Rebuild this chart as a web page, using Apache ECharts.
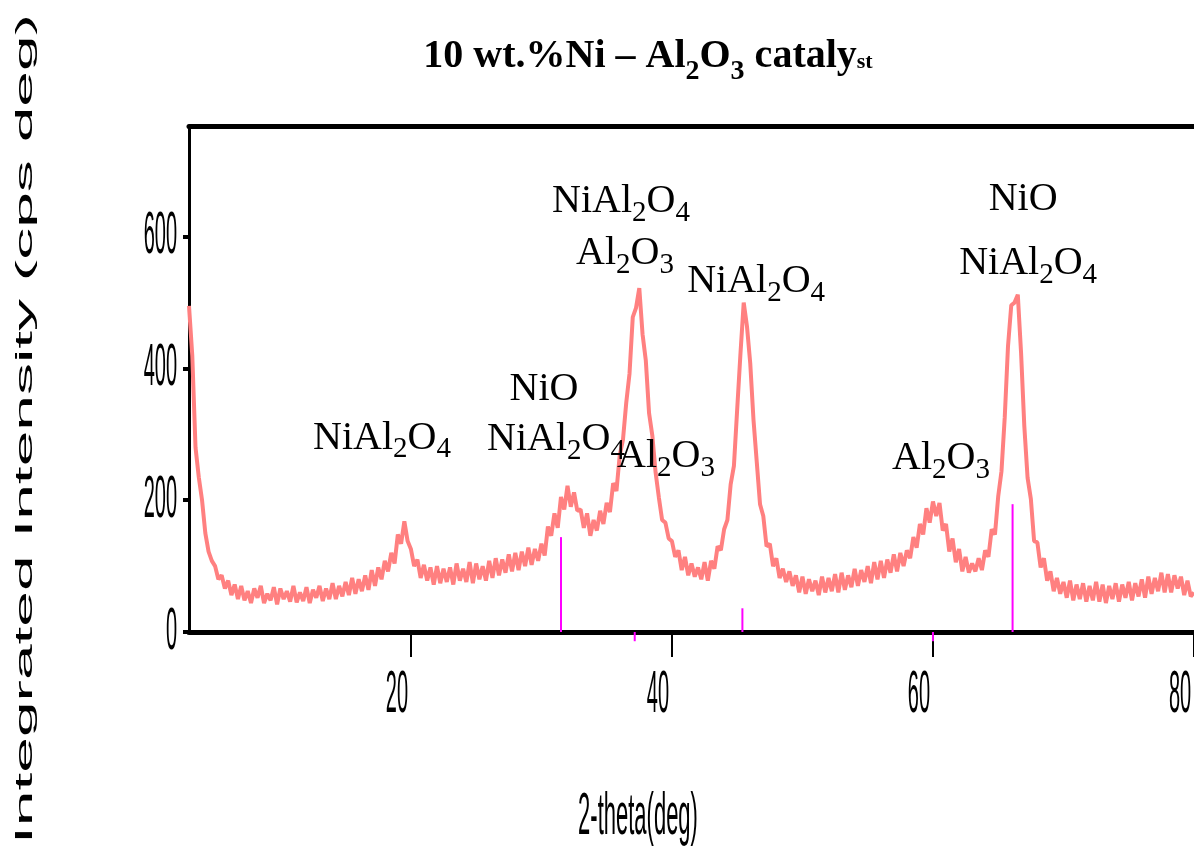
<!DOCTYPE html>
<html>
<head>
<meta charset="utf-8">
<script src="https://cdn.jsdelivr.net/npm/echarts@6/dist/echarts.min.js"></script>
<style>html,body{margin:0;padding:0;background:#fff}#c{width:1194px;height:849px}</style>
</head>
<body>
<div id="c"></div>
<script>
// scan grid (2-theta, deg)
const thetaStart = 3;
const thetaStep = 0.25;
// integrated intensity, one value per grid step (3.00 ... 80.00)
const intensity = [
  495, 420, 280, 235,   200, 150, 122, 108,   100, 80, 86, 66,   78, 56, 72, 50,   70, 48, 62, 44,
  66, 52, 70, 44,   58, 48, 68, 42,   66, 50, 62, 46,   70, 45, 60, 47,   68, 44, 64, 52,
  70, 47, 66, 50,   74, 50, 70, 54,   76, 56, 82, 58,   80, 62, 86, 64,   94, 70, 98, 80,
  108, 92, 120, 104,   148, 134, 168, 138,   126, 100, 110, 82,   102, 78, 98, 72,   100, 74, 96, 76,
  98, 72, 104, 78,   96, 76, 106, 74,   104, 80, 100, 78,   108, 82, 112, 86,   110, 90, 118, 92,
  120, 94, 122, 100,   128, 102, 126, 108,   134, 116, 160, 146,   180, 158, 205, 186,   222, 190, 212, 184,
  186, 158, 180, 146,   170, 154, 184, 164,   196, 182, 226, 214,   268, 292, 348, 392,   478, 492, 522, 452,
  412, 332, 298, 242,   204, 170, 166, 142,   138, 114, 124, 94,   114, 86, 104, 84,   98, 80, 106, 78,
  108, 96, 130, 124,   156, 170, 224, 252,   338, 422, 500, 464,   408, 322, 258, 194,   176, 130, 134, 100,
  112, 82, 96, 76,   92, 70, 86, 60,   84, 58, 80, 62,   78, 56, 84, 60,   82, 62, 88, 60,
  90, 64, 86, 68,   96, 70, 94, 76,   100, 74, 106, 80,   108, 82, 110, 90,   118, 92, 120, 100,
  124, 112, 144, 128,   164, 148, 188, 166,   198, 176, 196, 154,   164, 122, 142, 106,   126, 92, 114, 90,
  104, 92, 112, 94,   124, 114, 156, 148,   206, 244, 326, 434,   496, 500, 512, 424,   312, 234, 202, 138,
  136, 98, 112, 78,   92, 62, 82, 58,   76, 52, 78, 48,   72, 50, 74, 46,   70, 48, 76, 46,
  72, 44, 70, 50,   74, 46, 72, 52,   76, 48, 74, 54,   80, 52, 84, 58,   82, 62, 90, 60,
  88, 60, 86, 66,   84, 56, 78, 54,   60
];
// reference (stick) pattern lines
const refTheta  = [31.5, 37.15, 45.4, 60.0, 66.1];
const refTop    = [144, 0, 36, 0, 194];
const refBottom = [0, -14, 0, -14, 0];
// ticks
const xTickValues = [20, 40, 60, 80];
const xTickLabels = ['20', '40', '60', '80'];
const yTickValues = [0, 200, 400, 600];
const yTickLabels = ['0', '200', '400', '600'];
// texts
const chartTitle = '10 wt.%Ni \u2013 Al{s|2}O{s|3} cataly{t|st}';
const xAxisTitle = '2-theta(deg)';
const yAxisTitle = 'Integrated Intensity (cps deg)';
const annotationTexts = [
  'NiAl{s|2}O{s|4}',
  'NiO',
  'NiAl{s|2}O{s|4}',
  'Al{s|2}O{s|3}',
  'NiAl{s|2}O{s|4}',
  'Al{s|2}O{s|3}',
  'NiAl{s|2}O{s|4}',
  'Al{s|2}O{s|3}',
  'NiO',
  'NiAl{s|2}O{s|4}'
];
// anchor of each annotation (data coordinates)
const annotationAnchors = [
  [17.79, 294], [30.20, 368], [31.12, 292], [39.55, 266], [36.10, 653],
  [36.41, 574], [46.45, 532], [60.62, 263], [66.91, 656], [67.29, 559]
];

const serifFont = '"Liberation Serif", "Times New Roman", serif';
const sansFont = '"Liberation Sans", Arial, sans-serif';

const lineData = intensity.map((v, i) => [thetaStart + i * thetaStep, v]);
const refData = refTheta.map((t, i) => [t, refTop[i], refBottom[i]]);

const chart = echarts.init(document.getElementById('c'), null, {renderer: 'canvas'});

chart.setOption({
  animation: false,
  backgroundColor: '#fff',
  grid: {left: 189, right: 0, top: 126, bottom: 217, containLabel: false},
  xAxis: [{
    type: 'value', min: 3, max: 80, position: 'bottom',
    axisLine: {show: true, onZero: false, lineStyle: {color: '#000', width: 5}},
    axisTick: {show: true, customValues: xTickValues, length: 25, lineStyle: {color: '#000', width: 2}},
    axisLabel: {show: false},
    splitLine: {show: false}
  }, {
    type: 'value', min: 3, max: 80, position: 'top',
    axisLine: {show: true, onZero: false, lineStyle: {color: '#000', width: 5}},
    axisTick: {show: false}, axisLabel: {show: false}, splitLine: {show: false}
  }],
  yAxis: {
    type: 'value', min: 0, max: 768,
    axisLine: {show: true, onZero: false, lineStyle: {color: '#000', width: 3}},
    axisTick: {show: true, customValues: yTickValues, length: 6, lineStyle: {color: '#000', width: 4}},
    axisLabel: {show: false},
    splitLine: {show: false}
  },
  series: [{
    type: 'line',
    data: lineData,
    showSymbol: false,
    silent: true,
    lineStyle: {color: '#ff8080', width: 4, join: 'bevel'},
    markPoint: {
      silent: true,
      symbol: 'circle',
      symbolSize: 1,
      itemStyle: {color: 'rgba(0,0,0,0)'},
      label: {
        show: true,
        position: 'inside',
        color: '#000',
        fontFamily: serifFont,
        fontSize: 40,
        lineHeight: 56,
        formatter: (p) => annotationTexts[p.dataIndex],
        rich: {
          s: {fontFamily: serifFont, fontSize: 29, lineHeight: 30, color: '#000', padding: [23, 0, 0, 0]}
        }
      },
      data: annotationAnchors.map((c) => ({coord: c}))
    }
  }, {
    type: 'custom',
    clip: false,
    silent: true,
    data: refData,
    renderItem: function (params, api) {
      const p0 = api.coord([api.value(0), api.value(1)]);
      const p1 = api.coord([api.value(0), api.value(2)]);
      return {
        type: 'line',
        shape: {x1: p0[0], y1: p0[1], x2: p1[0], y2: p1[1]},
        style: {stroke: '#ff00ff', lineWidth: 2}
      };
    },
    z: 5
  }]
});

const graphics = [];
xTickValues.forEach((v, i) => {
  const p = chart.convertToPixel({gridIndex: 0}, [v, 0]);
  graphics.push({
    type: 'text', x: p[0] - 14, y: 695, scaleY: 3,
    style: {text: xTickLabels[i], font: '20px ' + sansFont, fill: '#000',
            align: 'center', verticalAlign: 'middle', textAlign: 'center', textVerticalAlign: 'middle'}
  });
});
yTickValues.forEach((v, i) => {
  const p = chart.convertToPixel({gridIndex: 0}, [3, v]);
  graphics.push({
    type: 'text', x: 177, y: p[1], scaleY: 3,
    style: {text: yTickLabels[i], font: '20px ' + sansFont, fill: '#000',
            align: 'right', verticalAlign: 'middle', textAlign: 'right', textVerticalAlign: 'middle'}
  });
});
graphics.push({
  type: 'text', x: 638, y: 818, scaleY: 2.7,
  style: {text: xAxisTitle, font: '22px ' + sansFont, fill: '#000',
          align: 'center', verticalAlign: 'middle', textAlign: 'center', textVerticalAlign: 'middle'}
});
graphics.push({
  type: 'text', x: 25, y: 429, rotation: Math.PI / 2, scaleX: 2.67,
  style: {text: yAxisTitle, font: '24px ' + sansFont, fill: '#000',
          align: 'center', verticalAlign: 'middle', textAlign: 'center', textVerticalAlign: 'middle'}
});
graphics.push({
  type: 'text', x: 648, y: 56.5,
  style: {
    text: chartTitle, fill: '#000',
    fontFamily: serifFont, fontSize: 40, fontWeight: 'bold', lineHeight: 60,
    align: 'center', verticalAlign: 'middle',
    rich: {
      s: {fontFamily: serifFont, fontSize: 28, fontWeight: 'bold', lineHeight: 28, fill: '#000', padding: [30, 0, 0, 0]},
      t: {fontFamily: serifFont, fontSize: 22, fontWeight: 'bold', lineHeight: 22, fill: '#000', padding: [12, 0, 0, 0]}
    }
  }
});
chart.setOption({graphic: graphics});
</script>
</body>
</html>
